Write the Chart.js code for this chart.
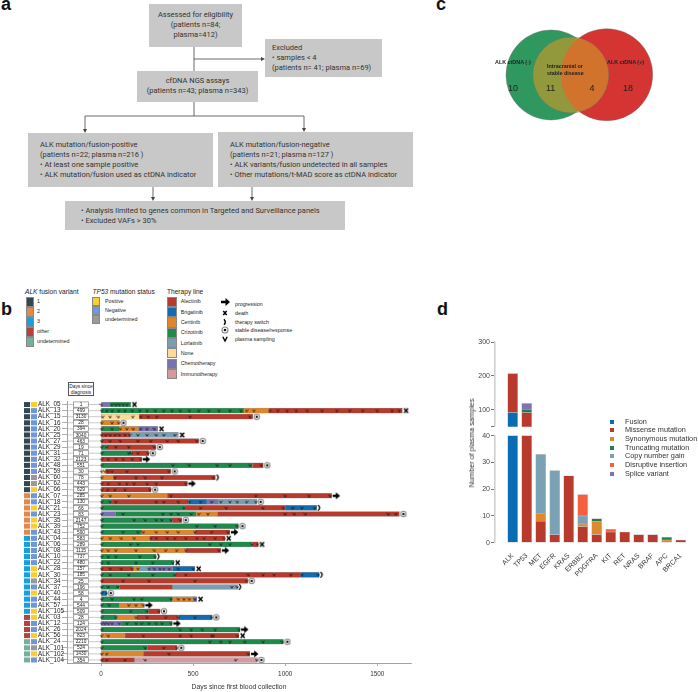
<!DOCTYPE html>
<html><head><meta charset="utf-8">
<script src="https://cdn.jsdelivr.net/npm/chart.js@4.4.1/dist/chart.umd.min.js"></script>
<style>
html,body{margin:0;padding:0;background:#fff;}
body{width:698px;height:692px;position:relative;overflow:hidden;font-family:"Liberation Sans",Arial,sans-serif;color:#222;}
.a{position:absolute}
.pl{position:absolute;font:bold 18px "Liberation Sans",Arial,sans-serif;line-height:18px;color:#111}
.box{position:absolute;background:#c8c8c8;font:7.5px Roboto,sans-serif;line-height:10px;color:#333;box-sizing:border-box;white-space:nowrap}
canvas{position:absolute}
.lg{position:absolute;font:5.3px "Liberation Sans",Arial,sans-serif;line-height:7px;color:#222;white-space:nowrap}
.lt{position:absolute;font:6.6px "Liberation Sans",Arial,sans-serif;line-height:8px;color:#222;white-space:nowrap}
.sq{position:absolute;box-sizing:border-box;border:0.5px solid #888}
.dl{position:absolute;font:7.3px "Liberation Sans",Arial,sans-serif;line-height:8px;color:#333;white-space:nowrap}
.vt{position:absolute;font:bold 5.4px "Liberation Sans",Arial,sans-serif;line-height:7px;color:#222;white-space:nowrap}
.vn{position:absolute;font:9px "Liberation Sans",Arial,sans-serif;line-height:10px;color:#222;white-space:nowrap}
</style></head><body>

<!-- panel a -->
<svg class="a" style="left:0;top:0" width="460" height="240">
<g stroke="#444" stroke-width="0.8" fill="none">
<path d="M194 47V71M194 59H262M194 102V116M85 116H304M85 116V130M304 116V129M153 187V198M252 187V198"/>
</g>
<g fill="#444">
<path d="M265 59l-4 -2v4z"/><path d="M85 133l-2 -4h4z"/><path d="M304 132l-2 -4h4z"/>
<path d="M153 201l-2 -4h4z"/><path d="M252 201l-2 -4h4z"/>
</g>
</svg>
<div class="pl" style="left:1px;top:-5px">a</div>
<div class="box" style="left:149px;top:4px;width:93px;height:43px;padding-top:6px;text-align:center">Assessed for eligibility<br>(patients n=84;<br>plasma=412)</div>
<div class="box" style="left:265px;top:39px;width:117px;height:38px;padding:4px 0 0 7px">Excluded<br>• samples &lt; 4<br>(patients n= 41; plasma n=69)</div>
<div class="box" style="left:137px;top:71px;width:121px;height:31px;padding-top:5px;text-align:center">cfDNA NGS assays<br>(patients n=43; plasma n=343)</div>
<div class="box" style="left:28px;top:133px;width:185px;height:54px;padding:7px 0 0 12px">ALK mutation/fusion-positive<br>(patients n=22; plasma n=216 )<br>• At least one sample positive<br>• ALK mutation/fusion used as ctDNA indicator</div>
<div class="box" style="left:218px;top:132px;width:195px;height:55px;padding:8px 0 0 12px">ALK mutation/fusion-negative<br>(patients n=21; plasma n=127 )<br>• ALK variants/fusion undetected in all samples<br>• Other mutations/t-MAD score as ctDNA indicator</div>
<div class="box" style="left:65px;top:201px;width:280px;height:29px;padding:5px 0 0 16px">• Analysis limited to genes common in Targeted and Surveillance panels<br>• Excluded VAFs &gt; 30%</div>

<!-- panel c -->
<div class="pl" style="left:436px;top:-5px">c</div>
<canvas id="cC" width="238" height="140" style="left:460px;top:0;width:238px;height:140px"></canvas>
<div class="vt" style="left:495px;top:58.5px">ALK ctDNA (-)</div>
<div class="vt" style="left:607px;top:58.5px">ALK ctDNA (+)</div>
<div class="vt" style="left:547px;top:62.5px">Intracranial or<br>stable disease</div>
<div class="vn" style="left:508px;top:83px">10</div>
<div class="vn" style="left:546px;top:83px">11</div>
<div class="vn" style="left:589.5px;top:83px">4</div>
<div class="vn" style="left:623px;top:83px">18</div>

<!-- panel b -->
<div class="pl" style="left:1px;top:300px">b</div>
<div id="legB"></div>
<div class="a" style="left:68px;top:382px;width:26px;height:14px;box-sizing:border-box;border:0.6px solid #555;font:4.8px 'Liberation Sans',Arial,sans-serif;line-height:6px;text-align:center;padding-top:1px">Days since<br>diagnosis</div>
<canvas id="cB" width="460" height="312" style="left:0;top:380px;width:460px;height:312px"></canvas>

<!-- panel d -->
<div class="pl" style="left:437px;top:300px">d</div>
<canvas id="cD1" width="238" height="100" style="left:460px;top:332px;width:238px;height:100px"></canvas>
<canvas id="cD2" width="238" height="164" style="left:460px;top:428px;width:238px;height:164px"></canvas>
<div class="dl" style="left:472px;top:443px;transform:translate(-50%,-50%) rotate(-90deg)">Number of plasma samples</div>
<div id="legD"></div>

<script>
// ---------------- data: panel b ----------------
const patients = ['ALK_05','ALK_13','ALK_15','ALK_16','ALK_20','ALK_25','ALK_27','ALK_29','ALK_31','ALK_32','ALK_48','ALK_59','ALK_60','ALK_62','ALK_66','ALK_07','ALK_18','ALK_21','ALK_23','ALK_35','ALK_39','ALK_43','ALK_04','ALK_06','ALK_08','ALK_10','ALK_22','ALK_28','ALK_30','ALK_34','ALK_37','ALK_40','ALK_44','ALK_57','ALK_105','ALK_03','ALK_12','ALK_26','ALK_56','ALK_24','ALK_101','ALK_102','ALK_104'];
const daysSinceDiagnosis = [1,499,3130,28,394,3040,463,19,71,2123,551,30,78,443,629,285,130,66,83,2147,752,590,583,289,1115,737,480,157,185,25,196,58,4,544,509,28,124,2024,823,2210,524,1430,354];
const alkVariant = ['1','1','1','1','1','1','1','1','1','1','1','1','1','1','1','2','2','2','2','2','2','2','3','3','3','3','3','3','3','3','3','3','3','3','3','other','other','other','other','undetermined','undetermined','undetermined','undetermined'];
const tp53Status = ['Positive','Negative','Negative','Negative','Negative','Negative','Negative','Negative','Negative','Negative','Negative','Negative','undetermined','undetermined','Positive','Negative','Negative','Positive','Negative','Positive','Positive','Negative','Negative','Negative','Negative','Negative','Negative','Positive','Positive','undetermined','Negative','Positive','Negative','Negative','Positive','Positive','Negative','Negative','Positive','Negative','undetermined','Positive','Negative'];
const therapies = ['Alectinib','Brigatinib','Ceritinib','Crizotinib','Lorlatinib','None','Chemotherapy','Immunotherapy'];
const therapyLines = [
 [['Chemotherapy',0,49],['Crizotinib',49,161]],
 [['Crizotinib',0,776],['Ceritinib',776,912],['Alectinib',912,1636]],
 [['None',0,208],['Alectinib',208,824]],
 [['Ceritinib',0,100]],
 [['Crizotinib',0,100],['Ceritinib',100,203],['Chemotherapy',203,308]],
 [['Alectinib',0,158],['Lorlatinib',158,420]],
 [['Alectinib',0,530]],
 [['Crizotinib',0,31],['Alectinib',31,297]],
 [['Crizotinib',0,166],['Alectinib',166,259]],
 [['Alectinib',0,221]],
 [['Crizotinib',0,822],['Alectinib',822,881]],
 [['None',0,25],['Alectinib',25,378]],
 [['Ceritinib',0,67],['Alectinib',67,621]],
 [['Alectinib',0,469]],
 [['Alectinib',0,272]],
 [['Ceritinib',0,360],['Alectinib',360,1252]],
 [['Crizotinib',0,54],['Alectinib',54,474],['Brigatinib',474,574],['Chemotherapy',574,637],['Lorlatinib',637,845]],
 [['Crizotinib',0,456],['Alectinib',456,999],['Brigatinib',999,1171]],
 [['Chemotherapy',0,80],['Crizotinib',80,516],['Ceritinib',516,633],['Alectinib',633,1620]],
 [['Crizotinib',0,387],['Alectinib',387,438]],
 [['Crizotinib',0,746]],
 [['Crizotinib',0,221],['Ceritinib',221,510],['Alectinib',510,700]],
 [['Ceritinib',0,266],['Alectinib',266,673]],
 [['Crizotinib',0,822],['Alectinib',822,854]],
 [['Ceritinib',0,461],['Alectinib',461,650]],
 [['Crizotinib',0,299]],
 [['Crizotinib',0,396]],
 [['Alectinib',0,172],['Ceritinib',172,208],['Lorlatinib',208,260],['Chemotherapy',260,389],['Brigatinib',389,510]],
 [['Crizotinib',0,402],['Alectinib',402,1084],['Brigatinib',1084,1185]],
 [['Alectinib',0,796]],
 [['Crizotinib',0,100],['Alectinib',100,387],['Lorlatinib',387,742]],
 [['Brigatinib',0,31]],
 [['Crizotinib',0,387],['Ceritinib',387,498],['Chemotherapy',498,520]],
 [['Crizotinib',0,100],['Ceritinib',100,235]],
 [['Crizotinib',0,257],['Alectinib',257,320]],
 [['Crizotinib',0,85],['Ceritinib',85,194],['Alectinib',194,420],['Brigatinib',420,604]],
 [['Chemotherapy',0,109],['Crizotinib',109,387]],
 [['Crizotinib',0,755]],
 [['Ceritinib',0,130],['Alectinib',130,749]],
 [['Crizotinib',0,990]],
 [['Crizotinib',0,251],['Alectinib',251,414]],
 [['Ceritinib',0,230],['Alectinib',230,809]],
 [['Alectinib',0,181],['Immunotherapy',181,849]]
];
const endEvent = ['death','death','stable','stable','death','death','stable','stable','stable','progression','stable','stable','switch','progression','stable','progression','stable','switch','stable','stable','stable','progression','death','death','progression','switch','death','death','switch','stable','switch','stable','death','progression','stable','stable','progression','progression','death','stable','stable','progression','stable'];
const plasmaSampling = [
 [2,58,80,100,120,140],
 [3,30,60,95,130,170,210,250,295,340,385,430,480,530,585,640,700,760,790,830,915,960,1010,1060,1120,1200,1280,1350,1420,1500,1580,1620],
 [9,49,94,172,215,257,302,483,808],
 [3,60,95],
 [3,60,105,140,175,215,250,290],
 [3,25,50,75,100,130,155,200,250,300,340,400],
 [3,50,105,200,270,360,420,520],
 [3,30,80,150,290],
 [3,150,165,200,255],
 [3,40,80,120,170,215],
 [3,390,480,630,700,810,870],
 [3,20,40,60,140,370],
 [3,75,190,240,330,610],
 [3,40,100,140,180,250,300,460],
 [3,35,75,130,265],
 [3,50,150,380,840,1000,1130,1245],
 [3,50,80,300,340,420,480,540,600,650,700,740,790,840],
 [3,450,540,680,880,990,1040,1090,1160],
 [3,120,335,380,420,490,530,580,1000,1050,1110,1560,1600],
 [3,180,240,300,330,380,430],
 [3,520,620,740],
 [3,120,200,230,300,360,420,510,600,690],
 [3,50,110,180,270,300,360,400,460,520,560,620,670],
 [3,160,200,590,650,700,820,850],
 [3,40,80,190,290,350,410,460,640],
 [3,40,80,210,295],
 [3,40,190,280,390],
 [3,50,110,170,200,260,290,320,340,370,420,500],
 [3,50,150,280,400,460,800,880,940,1030,1090,1180],
 [3,120,260,510,790],
 [3,40,90,710,740],
 [3,30],
 [3,60,180,220,380,420,450,480,510],
 [3,45,150,190,230],
 [3,160,250,315],
 [3,80,190,250,350,420,510,600],
 [3,20,40,60,100,140,190,220,260,300,330,380],
 [3,430,490,550,620,750],
 [3,40,230,430,490,600,610,740],
 [3,590,650,700,780,880,985],
 [3,240,340,410],
 [3,30,370,800],
 [3,30,130,240,730,845]
];
const xTicksB = [0,500,1000,1500];

// ---------------- data: panel d ----------------
const genes = ['ALK','TP53','MET','EGFR','KRAS','ERBB2','PDGFRA','KIT','RET','NRAS','BRAF','APC','BRCA1'];
const fusion     = [92,0,0,0,0,0,0,0,0,0,0,0,0];
const missense   = [115,92,8,3,25,6,3,4,4,3,3,0,1];
const synonymous = [0,0,3,0,0,1,5,0,0,0,0,1,0];
const truncating = [0,10,0,0,0,0,1,0,0,0,0,1,0];
const copyGain   = [0,0,22,24,0,3,0,0,0,0,0,0,0];
const disruptive = [0,0,0,0,0,8,0,1,0,0,0,0,0];
const splice     = [0,17,0,0,0,0,0,0,0,0,0,0,0];
const upperTicksD = [50,100,200,300];
const lowerTicksD = [0,10,20,30,40];

// ---------------- styles ----------------
Chart.defaults.font.family = '"Liberation Sans", Arial, sans-serif';
const therapyColor = {Alectinib:'#b83a2c',Brigatinib:'#136bb1',Ceritinib:'#e0852b',Crizotinib:'#1f8a4c',Lorlatinib:'#7a9db2',None:'#fadc98',Chemotherapy:'#7a71b1',Immunotherapy:'#d49a9f'};
const variantColor = {'1':'#33474f','2':'#e0894a','3':'#17a0dc','other':'#b54141','undetermined':'#74b09a'};
const tp53Color = {Positive:'#f7cf35',Negative:'#6f97d9',undetermined:'#999999'};
const mutColors = ['#0a6cb3','#b83a2c','#e0882e','#1f8049','#7ba1b4','#f45f3d','#7d72b3'];
const mutNames = ['Fusion','Missense mutation','Synonymous mutation','Truncating mutation','Copy number gain','Disruptive insertion','Splice variant'];
const mutSeries = [fusion,missense,synonymous,truncating,copyGain,disruptive,splice];

// ---------------- legend b (HTML) ----------------
(function(){
  let h='';
  h+='<div class="lt" style="left:25px;top:287.7px"><i>ALK</i> fusion variant</div>';
  ['1','2','3','other','undetermined'].forEach((k,i)=>{
    h+=`<div class="sq" style="left:25.5px;top:${296.7+i*10}px;width:8px;height:10px;background:${variantColor[k]}"></div>`;
    h+=`<div class="lg" style="left:37px;top:${298.2+i*10}px">${k}</div>`;
  });
  h+='<div class="lt" style="left:92.5px;top:287.7px"><i>TP53</i> mutation status</div>';
  ['Positive','Negative','undetermined'].forEach((k,i)=>{
    h+=`<div class="sq" style="left:91.7px;top:${296.7+i*9.1}px;width:8.3px;height:9.1px;background:${tp53Color[k]}"></div>`;
    h+=`<div class="lg" style="left:105px;top:${297.5+i*9.1}px">${k}</div>`;
  });
  h+='<div class="lt" style="left:167px;top:287.7px">Therapy line</div>';
  therapies.forEach((k,i)=>{
    h+=`<div class="sq" style="left:167px;top:${296.7+i*10.3}px;width:10.3px;height:10.3px;background:${therapyColor[k]}"></div>`;
    h+=`<div class="lg" style="left:180.7px;top:${298.4+i*10.3}px">${k}</div>`;
  });
  const sy=[['progression',304],['death',313],['therapy switch',322],['stable disease/response',330],['plasma sampling',339]];
  sy.forEach(([t,y])=>{h+=`<div class="lg" style="left:235px;top:${y-3.5}px">${t}</div>`;});
  h+=`<svg class="a" style="left:216px;top:298px" width="18" height="46">
   <path d="M5 4.8h4.5v-2.8l4.5 4l-4.5 4v-2.8h-4.5z" fill="#000" transform="translate(0,-2)"/>
   <path d="M7.3 13l3.4 4M10.7 13l-3.4 4" stroke="#000" stroke-width="1.5"/>
   <path d="M8 21.2q2.6 2.8 0 5.6" stroke="#000" stroke-width="1.4" fill="none"/>
   <circle cx="9" cy="32" r="3" fill="#fff" stroke="#888" stroke-width="1.1"/><circle cx="9" cy="32" r="1.3" fill="#111"/>
   <path d="M6.8 38.8l2.2 4.2l2.2-4.2" stroke="#000" stroke-width="1.4" fill="none"/>
  </svg>`;
  document.getElementById('legB').innerHTML=h;
})();

// ---------------- legend d (HTML) ----------------
(function(){
  let h='';
  mutNames.forEach((n,i)=>{
    const y=421.7+i*8.67;
    h+=`<div class="a" style="left:610px;top:${y-2}px;width:4px;height:4px;background:${mutColors[i]}"></div>`;
    h+=`<div class="dl" style="left:625px;top:${y-4}px">${n}</div>`;
  });
  document.getElementById('legD').innerHTML=h;
})();

// ---------------- panel c: Venn ----------------
new Chart(document.getElementById('cC'),{type:'bubble',data:{datasets:[
  {label:'Intracranial or stable disease',data:[{x:105.5,y:85,r:38}],backgroundColor:'rgba(207,152,41,0.63)',borderColor:'rgba(110,110,110,0.7)',borderWidth:0.6,order:0,clip:false},
  {label:'ALK ctDNA (+)',data:[{x:164.5,y:84,r:46}],backgroundColor:'rgb(212,52,50)',borderColor:'rgba(110,110,110,0.7)',borderWidth:0.6,order:1,clip:false},
  {label:'ALK ctDNA (-)',data:[{x:73,y:85,r:45}],backgroundColor:'rgb(47,152,95)',borderColor:'rgba(110,110,110,0.7)',borderWidth:0.6,order:2,clip:false}
]},options:{responsive:false,animation:false,devicePixelRatio:1,layout:{padding:0},
  plugins:{legend:{display:false},tooltip:{enabled:false}},
  scales:{x:{type:'linear',min:0,max:238,display:false},y:{type:'linear',min:0,max:140,reverse:true,display:false}}}});

// ---------------- panel b: swimmer plot ----------------
function mk(w,h,f){const c=document.createElement('canvas');c.width=w;c.height=h;f(c.getContext('2d'));return c;}
const imgArrow=mk(20,8,g=>{g.fillStyle='#000';g.fillRect(11,2.8,4,2.4);g.beginPath();g.moveTo(14.2,0.6);g.lineTo(18.4,4);g.lineTo(14.2,7.4);g.closePath();g.fill();});
const imgDeath=mk(16,8,g=>{g.strokeStyle='#000';g.lineWidth=1.5;g.beginPath();g.moveTo(9.7,1.8);g.lineTo(13.7,6.2);g.moveTo(13.7,1.8);g.lineTo(9.7,6.2);g.stroke();});
const imgStable=mk(16,8,g=>{g.fillStyle='#fff';g.strokeStyle='#8a8a8a';g.lineWidth=1.1;g.beginPath();g.arc(12,4,2.7,0,Math.PI*2);g.fill();g.stroke();g.fillStyle='#111';g.beginPath();g.arc(12,4,1.2,0,Math.PI*2);g.fill();});
const imgSwitch=mk(12,8,g=>{g.strokeStyle='#000';g.lineWidth=1.3;g.beginPath();g.arc(5.6,4,3.1,-1.05,1.05);g.stroke();});
const imgV=mk(4,4,g=>{g.strokeStyle='#1a1a1a';g.lineWidth=0.8;g.beginPath();g.moveTo(0.6,0.9);g.lineTo(2,3.3);g.lineTo(3.4,0.9);g.stroke();});
const eventImg={progression:imgArrow,death:imgDeath,stable:imgStable,switch:imgSwitch};
const endDay=therapyLines.map(r=>r[r.length-1][2]);

const barSets=therapies.map(t=>({type:'bar',label:t,indexAxis:'y',
  data:therapyLines.map(r=>{const s=r.find(q=>q[0]===t);return s?[s[1],s[2]]:null;}),
  backgroundColor:therapyColor[t],borderColor:'rgba(125,125,125,0.75)',borderWidth:0.5,borderSkipped:false,
  grouped:false,barThickness:5,order:2}));
const eventSets=Object.keys(eventImg).map(ev=>({type:'scatter',label:ev,
  data:patients.map((p,i)=>endEvent[i]===ev?{x:endDay[i],y:p}:null).filter(Boolean),
  pointStyle:eventImg[ev],pointRadius:2,order:0,clip:false}));
const sampleSet={type:'scatter',label:'plasma sampling',
  data:plasmaSampling.flatMap((arr,i)=>arr.map(d=>({x:d,y:patients[i]}))),
  pointStyle:imgV,pointRadius:1.5,order:1,clip:false};

const sidePlugin={id:'sideB',
  beforeDatasetsDraw(chart){
    const {ctx,scales:{x,y},chartArea}=chart;
    ctx.save();
    ctx.strokeStyle='#a8a8a8';ctx.lineWidth=0.6;
    const x0=x.getPixelForValue(0);
    patients.forEach((p,i)=>{const py=y.getPixelForValue(i);ctx.beginPath();ctx.moveTo(chartArea.left,py);ctx.lineTo(x0,py);ctx.stroke();});
    ctx.font='4.8px "Liberation Sans", Arial, sans-serif';ctx.textAlign='center';ctx.textBaseline='middle';
    patients.forEach((p,i)=>{const py=y.getPixelForValue(i);
      ctx.fillStyle='#fff';ctx.fillRect(73.5,py-2.6,15,5.2);
      ctx.strokeStyle='#555';ctx.lineWidth=0.5;ctx.strokeRect(73.5,py-2.6,15,5.2);
      ctx.fillStyle='#222';ctx.fillText(String(daysSinceDiagnosis[i]),81,py+0.3);});
    ctx.restore();
  },
  afterDraw(chart){
    const {ctx,scales:{y}}=chart;
    ctx.save();
    patients.forEach((p,i)=>{const py=y.getPixelForValue(i);
      ctx.fillStyle=variantColor[alkVariant[i]];ctx.fillRect(24,py-2.5,6,5);
      ctx.fillStyle=tp53Color[tp53Status[i]];ctx.fillRect(31,py-2.5,6,5);});
    ctx.restore();
  }};

new Chart(document.getElementById('cB'),{type:'bar',
  data:{labels:patients,datasets:[...eventSets,sampleSet,...barSets]},
  options:{responsive:false,animation:false,devicePixelRatio:1,indexAxis:'y',
    layout:{padding:{left:38,top:21.5,right:49,bottom:0}},
    plugins:{legend:{display:false},tooltip:{enabled:false}},
    scales:{
      y:{type:'category',offset:true,
        grid:{display:true,drawOnChartArea:false,offset:false,tickLength:5,color:'#777',lineWidth:0.6},
        border:{display:true,color:'#8a8a8a',width:0.8},
        ticks:{font:{size:6.3},color:'#222',crossAlign:'far',padding:2,autoSkip:false},
        afterFit(s){s.width=29;}},
      x:{type:'linear',min:-185,max:1683,
        afterBuildTicks(s){s.ticks=xTicksB.map(v=>({value:v}));},
        grid:{display:true,drawOnChartArea:false,tickLength:3,color:'#777',lineWidth:0.6},
        border:{display:true,color:'#8a8a8a',width:0.8},
        ticks:{font:{size:6.4},color:'#333',padding:4,callback:(v)=>String(v)},
        title:{display:true,text:'Days since first blood collection',font:{size:6.8},color:'#333',padding:{top:0,bottom:1.2}},
        afterFit(s){s.height=29;}}
    }},
  plugins:[sidePlugin]});

// ---------------- panel d: broken-axis stacked bars ----------------
function dSets(){return mutSeries.map((arr,k)=>({type:'bar',label:mutNames[k],
  data:arr.map((v,i)=>v?{x:i,y:v}:null).filter(Boolean),
  backgroundColor:mutColors[k],borderColor:'rgba(190,190,190,0.95)',borderWidth:0.6,borderSkipped:false,
  barThickness:10,clip:0}));}
const yAxisD=(ticks,min,max,hideFirst)=>({type:'linear',min,max,stacked:true,
  afterBuildTicks(s){s.ticks=ticks.map(v=>({value:v}));},
  ticks:{font:{size:7},color:'#444',padding:1,callback:(v)=>(hideFirst&&v===ticks[0])?'':String(v)},
  grid:{display:true,drawOnChartArea:false,tickLength:4,color:'#555',lineWidth:0.8},
  border:{display:true,color:'#d0d0d0',width:1.6},
  afterFit(s){s.width=35;}});
const xAxisD=(show)=>({type:'linear',min:-0.705,max:12.68,stacked:true,display:show,
  afterBuildTicks(s){s.ticks=genes.map((g,i)=>({value:i}));},
  ticks:{font:{size:7},color:'#333',minRotation:45,maxRotation:45,autoSkip:false,padding:1,callback:(v)=>genes[v]},
  grid:{display:false},border:{display:false},
  afterFit(s){s.height=show?49.3:0;}});

new Chart(document.getElementById('cD1'),{type:'bar',data:{datasets:dSets()},
  options:{responsive:false,animation:false,devicePixelRatio:1,layout:{padding:{top:10,bottom:4,left:0,right:0}},
    plugins:{legend:{display:false},tooltip:{enabled:false}},
    scales:{x:xAxisD(false),y:yAxisD(upperTicksD,50,300,true)}}});
new Chart(document.getElementById('cD2'),{type:'bar',data:{datasets:dSets()},
  options:{responsive:false,animation:false,devicePixelRatio:1,layout:{padding:{top:7.7,bottom:0,left:0,right:0}},
    plugins:{legend:{display:false},tooltip:{enabled:false}},
    scales:{x:xAxisD(true),y:yAxisD(lowerTicksD,0,40,false)}}});
</script>
</body></html>
